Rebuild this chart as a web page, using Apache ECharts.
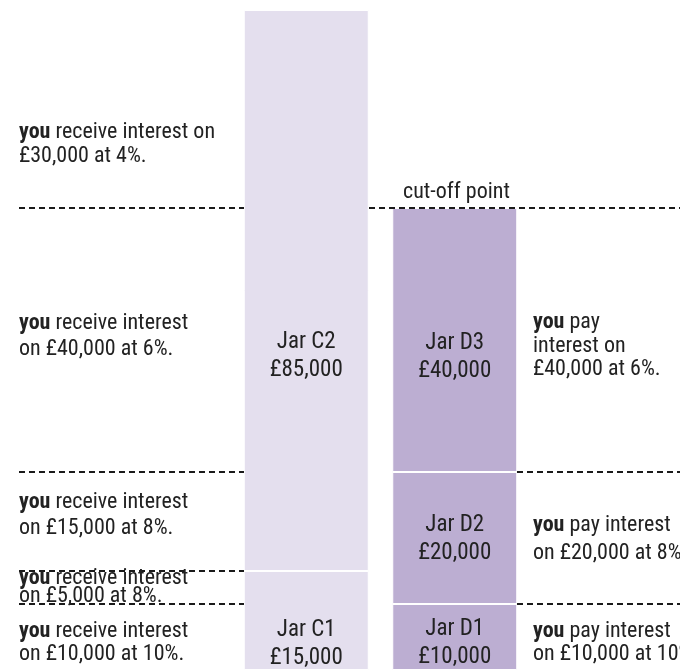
<!DOCTYPE html>
<html>
<head>
<meta charset="utf-8">
<script src="https://cdn.jsdelivr.net/npm/echarts@6/dist/echarts.min.js"></script>
<style>
html,body{margin:0;padding:0;background:#fff;}
#chart{width:680px;height:670px;}
</style>
</head>
<body>
<div id="chart"></div>
<script>
// ---- data ----
const jars = ['Jar C', 'Jar D'];
const segNames = ['Jar C1', 'Jar C2', 'Jar D1', 'Jar D2', 'Jar D3'];
const segValues = [
  [15000, null],   // Jar C1
  [85000, null],   // Jar C2
  [null, 10000],   // Jar D1
  [null, 20000],   // Jar D2
  [null, 40000]    // Jar D3
];
const cutOff = 70000;
const bandLevels = [10000, 15000, 30000, 70000];
const rightLevels = [10000, 30000];

// ---- styles ----
const FONT = 'Roboto, "Open Sans", sans-serif';
const STRETCH = 'condensed';
const TXT = '#222';
const colC = '#e4dfee';
const colD = '#bcaed2';
const segColors = [colC, colC, colD, colD, colD];
const labelOffsets = [[0, 24], [0, 66], [0, 6], [0, 1], [0, 17]];

const fmt = v => '£' + v.toLocaleString('en-GB');

const barSeries = segNames.map((name, i) => ({
  name: name,
  type: 'bar',
  stack: 'jars',
  xAxisIndex: 0,
  yAxisIndex: 0,
  barWidth: 125,
  data: segValues[i].map(v => v == null ? '-' : v),
  itemStyle: { color: segColors[i], borderColor: '#fff', borderWidth: 1 },
  label: {
    show: true,
    position: 'inside',
    offset: labelOffsets[i],
    formatter: p => name + '\n' + fmt(p.value),
    fontFamily: FONT,
    fontStyle: STRETCH,
    fontSize: 23,
    lineHeight: 28,
    color: TXT
  },
  emphasis: { disabled: true },
  silent: true
}));

// dashed guide lines (x extents are layout only)
const L0 = 19, L1 = 244, R0 = 369, R1 = 517, R2 = 680;
const lineData = [];
bandLevels.forEach(v => lineData.push([{ coord: [L0, v] }, { coord: [L1, v] }]));
lineData.push([{ coord: [R0, cutOff] }, { coord: [R2, cutOff] }]);
rightLevels.forEach(v => lineData.push([{ coord: [R1, v] }, { coord: [R2, v] }]));

const guideSeries = {
  type: 'line',
  xAxisIndex: 1,
  yAxisIndex: 1,
  data: [],
  silent: true,
  markLine: {
    silent: true,
    symbol: 'none',
    label: { show: false },
    lineStyle: { color: '#1a1a1a', type: [6, 4], width: 1.8 },
    emphasis: { disabled: true },
    data: lineData
  },
  z: 5
};

function note(x, y, text, lh) {
  lh = lh || 24;
  return {
    type: 'text',
    left: x,
    top: y,
    z: 10,
    style: {
      text: text,
      fontFamily: FONT,
      fontStyle: STRETCH,
      fontSize: 22,
      lineHeight: lh,
      fill: TXT,
      rich: {
        b: { fontFamily: FONT, fontStyle: STRETCH, fontSize: 22, fontWeight: 'bold', fill: TXT, lineHeight: lh }
      }
    }
  };
}

const chart = echarts.init(document.getElementById('chart'), null, { renderer: 'canvas' });
chart.setOption({
  animation: false,
  backgroundColor: '#fff',
  grid: [
    { left: 232, width: 297, top: 10, bottom: 0 },
    { left: 0, right: 0, top: 10, bottom: 0 }
  ],
  xAxis: [
    { type: 'category', gridIndex: 0, data: jars, show: false },
    { type: 'value', gridIndex: 1, min: 0, max: 680, show: false }
  ],
  yAxis: [
    { type: 'value', gridIndex: 0, min: 0, max: 100000, show: false },
    { type: 'value', gridIndex: 1, min: 0, max: 100000, show: false }
  ],
  series: barSeries.concat([guideSeries]),
  graphic: [
    note(19, 120, '{b|you} receive interest on\n£30,000 at 4%.'),
    { type: 'text', left: 403, top: 181, z: 10,
      style: { text: 'cut-off point', fontFamily: FONT, fontStyle: STRETCH, fontSize: 22, fill: TXT } },
    note(19, 310, '{b|you} receive interest\non £40,000 at 6%.', 26),
    note(19, 489, '{b|you} receive interest\non £15,000 at 8%.', 26),
    note(19, 567, '{b|you} receive interest\non £5,000 at 8%.', 18),
    note(19, 620, '{b|you} receive interest\non £10,000 at 10%.', 23),
    note(533, 311, '{b|you} pay\ninterest on\n£40,000 at 6%.', 23.5),
    note(533, 511, '{b|you} pay interest\non £20,000 at 8%.', 28),
    note(533, 620, '{b|you} pay interest\non £10,000 at 10%.', 23)
  ]
});
</script>
</body>
</html>
